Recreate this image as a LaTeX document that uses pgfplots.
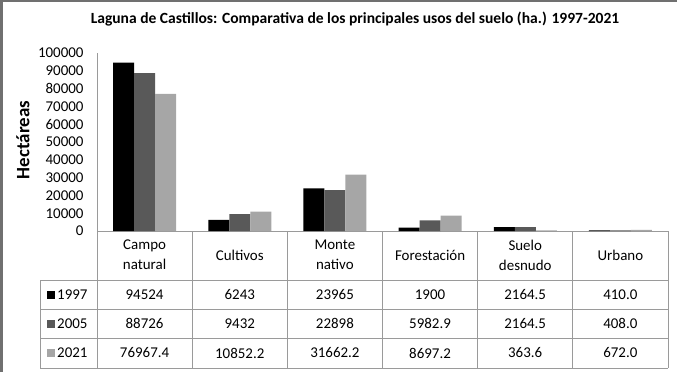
\documentclass[border=0pt]{standalone}
\usepackage{fontspec}
\setmainfont{Carlito}
\usepackage{pgfplots}
\pgfplotsset{compat=1.18}
\definecolor{cA}{HTML}{000000}
\definecolor{cB}{HTML}{595959}
\definecolor{cC}{HTML}{A6A6A6}
\definecolor{gridc}{HTML}{9A9A9A}
\definecolor{framec}{HTML}{707070}
\begin{document}
\begin{tikzpicture}
\useasboundingbox (0,0) rectangle (677bp,-372bp);
\begin{axis}[
  at={(97bp,-231bp)}, anchor=south west,
  scale only axis, width=571bp, height=178bp,
  xmin=-0.5, xmax=5.5, ymin=0, ymax=100000,
  enlargelimits=false, clip=false,
  ybar=0pt, bar width=21bp,
  axis lines*=left,
  axis line style={gridc, line width=1bp},
  xtick=\empty,
  ytick={0,10000,...,100000},
  scaled y ticks=false,
  major tick length=0pt,
  /pgf/number format/assume math mode=true,
  yticklabel style={font=\fontsize{15}{18}\selectfont, /pgf/number format/fixed, /pgf/number format/1000 sep={}, xshift=-10bp},
]
\addplot[fill=cA, draw=none] coordinates {(0,94524) (1,6243) (2,23965) (3,1900) (4,2164.5) (5,410.0)};
\addplot[fill=cB, draw=none] coordinates {(0,88726) (1,9432) (2,22898) (3,5982.9) (4,2164.5) (5,408.0)};
\addplot[fill=cC, draw=none] coordinates {(0,76967.4) (1,10852.2) (2,31662.2) (3,8697.2) (4,363.6) (5,672.0)};
\end{axis}
\begin{scope}[x=1bp, y=-1bp]
  % outer frame (left and top)
  \fill[framec] (0,0) rectangle (3,372);
  \fill[framec] (0,0) rectangle (677,2.5);
  % title
  \node[font=\fontsize{15.6}{18}\selectfont\bfseries] at (355,19) {Laguna de Castillos: Comparativa de los principales usos del suelo (ha.) 1997-2021};
  % y label
  \node[font=\fontsize{19}{22}\selectfont\bfseries, rotate=90] at (23,140) {Hectáreas};
  % table grid
  \begin{scope}[gridc, line width=1bp]
    \foreach \y in {280,309,338,368} \draw (40,\y) -- (668,\y);
    \draw (40,280) -- (40,368);
    \foreach \x in {97,192.2,287.3,382.5,477.7,572.8,668} \draw (\x,231) -- (\x,368);
  \end{scope}
  % headers
  \begin{scope}[every node/.style={font=\fontsize{15}{20}\selectfont, align=center}]
    \node at (144.6,255) {Campo\\natural};
    \node at (239.75,255) {Cultivos};
    \node at (334.9,255) {Monte\\nativo};
    \node at (430.1,255) {Forestación};
    \node at (525.25,255) {Suelo\\desnudo};
    \node at (620.4,255) {Urbano};
    % rows
    \foreach \v [count=\i from 0] in {94524,6243,23965,1900,2164.5,410.0}
      \node at (144.6+95.15*\i,294.5) {\v};
    \foreach \v [count=\i from 0] in {88726,9432,22898,5982.9,2164.5,408.0}
      \node at (144.6+95.15*\i,323.5) {\v};
    \foreach \v [count=\i from 0] in {76967.4,10852.2,31662.2,8697.2,363.6,672.0}
      \node at (144.6+95.15*\i,353) {\v};
    % legend keys
    \fill[cA] (47,290.5) rectangle (55,298.5);
    \fill[cB] (47,319.5) rectangle (55,327.5);
    \fill[cC] (47,349) rectangle (55,357);
    \node[anchor=west, inner sep=0pt] at (57,294.5) {1997};
    \node[anchor=west, inner sep=0pt] at (57,323.5) {2005};
    \node[anchor=west, inner sep=0pt] at (57,353) {2021};
  \end{scope}
\end{scope}
\end{tikzpicture}
\end{document}
